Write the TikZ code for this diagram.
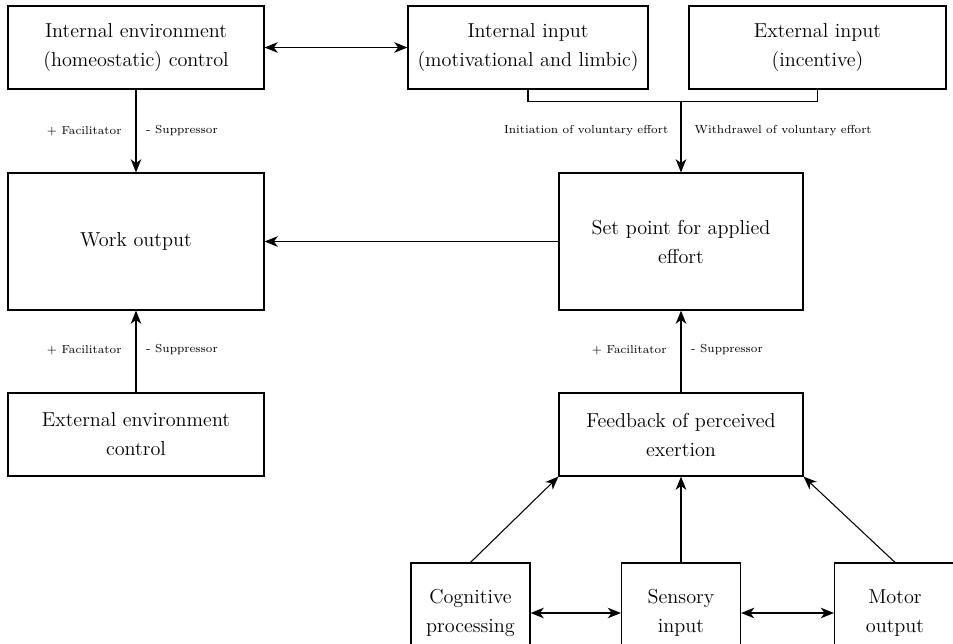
\documentclass[tikz,border=0pt]{standalone}
\usepackage{tikz}
\usetikzlibrary{arrows.meta}
\tikzstyle{block} = [draw, line width=0.7pt, align=center, inner sep=2pt, font=\fontsize{11.5}{16.5}\selectfont]
\tikzstyle{arrow} = [line width=0.6pt,-{Stealth[length=7.5pt,width=6pt,inset=2.2pt]}]
\tikzstyle{darrow} = [line width=0.6pt,{Stealth[length=7.5pt,width=6pt,inset=2.2pt]}-{Stealth[length=7.5pt,width=6pt,inset=2.2pt]}]
\tikzstyle{lbl} = [font=\fontsize{6.6}{8}\selectfont, inner sep=0pt]
\begin{document}
\begin{tikzpicture}[x=0.02cm, y=-0.02cm]
    \clip (0,0) rectangle (953,643);
    \fill[white] (0,0) rectangle (953,643);
    % top row
    \node[block, minimum width=5.12cm, minimum height=1.66cm] (intenv) at (136,47.5) {Internal environment\\(homeostatic) control};
    \node[block, minimum width=4.8cm, minimum height=1.66cm] (intin) at (528,47.5) {Internal input\\(motivational and limbic)};
    \node[block, minimum width=5.14cm, minimum height=1.66cm] (extin) at (817.5,47.5) {External input\\(incentive)};
    % middle row
    \node[block, minimum width=5.12cm, minimum height=2.74cm] (work) at (136,241.5) {Work output};
    \node[block, minimum width=4.88cm, minimum height=2.74cm] (setpt) at (681,241.5) {Set point for applied\\effort};
    \node[block, minimum width=5.12cm, minimum height=1.66cm] (extenv) at (136,434.5) {External environment\\control};
    \node[block, minimum width=4.88cm, minimum height=1.66cm] (feedback) at (681,434.5) {Feedback of perceived\\exertion};
    % bottom row
    \node[block, minimum width=2.38cm, minimum height=2cm] (cog) at (470.5,613) {Cognitive\\processing};
    \node[block, minimum width=2.38cm, minimum height=2cm] (sens) at (681,613) {Sensory\\input};
    \node[block, minimum width=2.42cm, minimum height=2cm] (motor) at (895,613) {Motor\\output};

    \draw[darrow] (intenv) -- (intin);
    \draw[line width=0.6pt] (intin.south) -- ++(0,12) -| (extin.south);
    \coordinate (join) at (setpt.north |- 0,101);
    \draw[arrow] (join) -- node[pos=0.42, lbl, left=7pt]{Initiation of voluntary effort} node[pos=0.42, lbl, right=7.5pt]{Withdrawel of voluntary effort} (setpt.north);
    \draw[arrow] (intenv) -- node[lbl, left=8pt]{+ Facilitator} node[lbl, right=5.5pt]{- Suppressor} (work);
    \draw[arrow] (setpt) -- (work);
    \draw[arrow] (extenv) -- node[pos=0.52, lbl, left=8pt]{+ Facilitator} node[pos=0.52, lbl, right=5.5pt]{- Suppressor} (work);
    \draw[arrow] (feedback) -- node[pos=0.52, lbl, left=8pt]{+ Facilitator} node[pos=0.52, lbl, right=5.5pt]{- Suppressor} (setpt);
    \draw[arrow] (cog.north) -- (feedback.south west);
    \draw[arrow] (sens.north) -- (feedback.south);
    \draw[arrow] (motor.north) -- (feedback.south east);
    \draw[darrow] (cog) -- (sens);
    \draw[darrow] (sens) -- (motor);
\end{tikzpicture}
\end{document}
